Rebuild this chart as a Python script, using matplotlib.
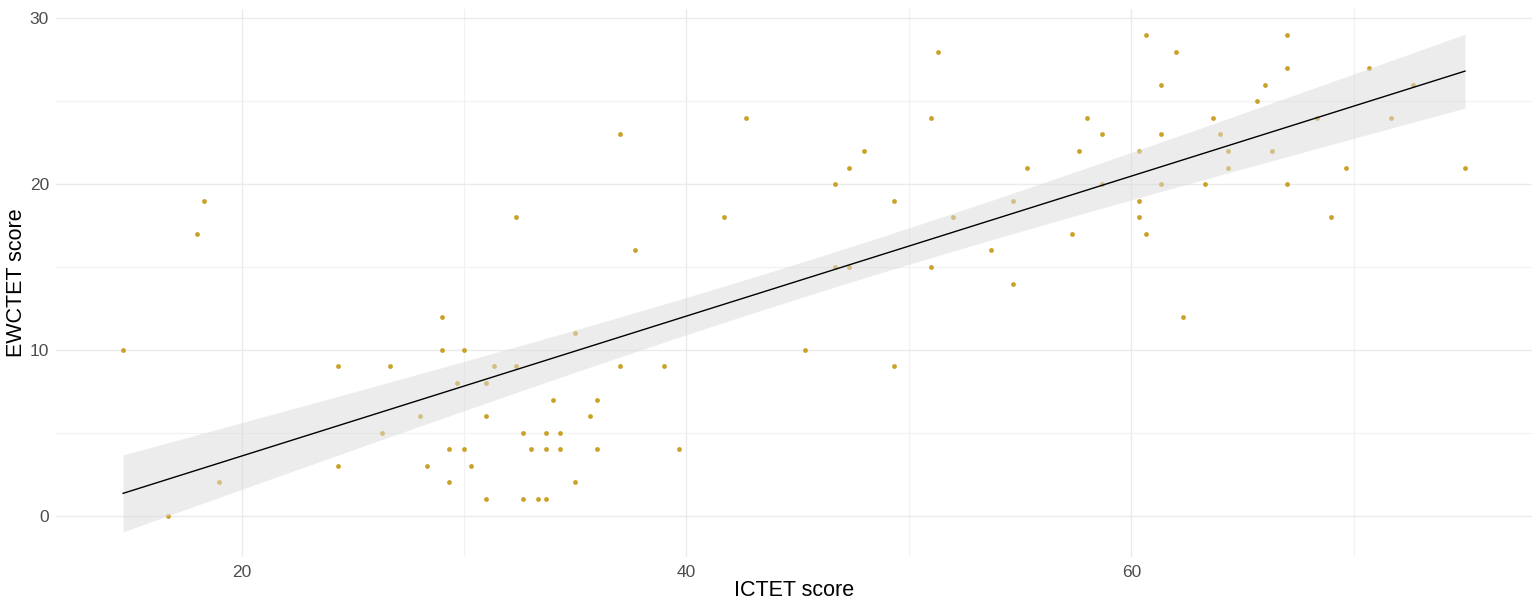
import numpy as np
import matplotlib
matplotlib.use("Agg")
import matplotlib.pyplot as plt

plt.rcParams['font.family'] = ['Liberation Sans', 'DejaVu Sans']

# ICTET / EWCTET scores per participant
ictet = [14.67, 16.67, 18.0, 18.33, 19.0, 24.33, 24.33, 26.33, 26.67, 28.0,
         28.33, 29.0, 29.0, 29.33, 29.33, 29.67, 30.0, 30.0, 30.33, 31.0,
         31.0, 31.0, 31.33, 32.33, 32.33, 32.67, 32.67, 33.0, 33.33, 33.67,
         33.67, 33.67, 34.0, 34.33, 34.33, 35.0, 35.0, 35.67, 36.0, 36.0,
         37.0, 37.0, 37.67, 39.0, 39.67, 41.67, 42.67, 45.33, 46.67, 46.67,
         47.33, 47.33, 48.0, 49.33, 49.33, 51.0, 51.0, 51.33, 52.0, 53.67,
         54.67, 54.67, 55.33, 57.33, 57.67, 58.0, 58.67, 58.67, 60.33, 60.33,
         60.33, 60.67, 60.67, 61.33, 61.33, 61.33, 62.0, 62.33, 63.33, 63.67,
         64.0, 64.33, 64.33, 65.67, 66.0, 66.33, 67.0, 67.0, 67.0, 68.33,
         69.0, 69.67, 70.67, 71.67, 72.67, 75.0]
ewctet = [10, 0, 17, 19, 2, 9, 3, 5, 9, 6,
          3, 12, 10, 4, 2, 8, 10, 4, 3, 8,
          6, 1, 9, 9, 18, 5, 1, 4, 1, 5,
          4, 1, 7, 5, 4, 11, 2, 6, 7, 4,
          9, 23, 16, 9, 4, 18, 24, 10, 20, 15,
          21, 15, 22, 19, 9, 24, 15, 28, 18, 16,
          19, 14, 21, 17, 22, 24, 23, 20, 22, 19,
          18, 29, 17, 26, 23, 20, 28, 12, 20, 24,
          23, 22, 21, 25, 26, 22, 29, 27, 20, 24,
          18, 21, 27, 24, 26, 21]

x = np.array(ictet)
y = np.array(ewctet)

# linear fit with 95% confidence band (like geom_smooth(method="lm"))
n = len(x)
slope, intercept = np.polyfit(x, y, 1)
resid = y - (slope * x + intercept)
s = np.sqrt(np.sum(resid ** 2) / (n - 2))
xs = np.linspace(x.min(), x.max(), 200)
fit = slope * xs + intercept
se = s * np.sqrt(1 / n + (xs - x.mean()) ** 2 / np.sum((x - x.mean()) ** 2))
tcrit = 1.9855  # t(0.975, df=94)
lo = fit - tcrit * se
hi = fit + tcrit * se

fig = plt.figure(figsize=(15.37, 6), dpi=100)
ax = fig.add_axes([56 / 1537, 1 - 556.7 / 600, (1532 - 56) / 1537, (556.7 - 9.3) / 600])

ax.scatter(x, y, s=12, color="#C9A227", linewidths=0, zorder=2)
ax.fill_between(xs, lo, hi, color="#DADADA", alpha=0.5, linewidth=0, zorder=3)
ax.plot(xs, fit, color="black", lw=1.0, zorder=4)

# 5% expansion like ggplot
xmin, xmax = x.min(), x.max()
dx = (xmax - xmin) * 0.05
ax.set_xlim(xmin - dx, xmax + dx)
ymin, ymax = min(y.min(), lo.min()), max(y.max(), hi.max())
dy = (ymax - ymin) * 0.05
ax.set_ylim(ymin - dy, ymax + dy)

ax.set_xticks([20, 40, 60])
ax.set_xticks([30, 50, 70], minor=True)
ax.set_yticks([0, 10, 20, 30])
ax.set_yticks([5, 15, 25], minor=True)
ax.grid(which="major", color="#EBEBEB", lw=1.0, zorder=0)
ax.grid(which="minor", color="#F2F2F2", lw=0.9, zorder=0)
ax.set_axisbelow(True)
for sp in ax.spines.values():
    sp.set_visible(False)
ax.tick_params(which="both", length=0, labelsize=12.5, labelcolor="#4D4D4D")
ax.tick_params(axis="x", pad=6)
ax.tick_params(axis="y", pad=5)

ax.set_xlabel("ICTET score", fontsize=15.5, color="black", labelpad=0)
ax.set_ylabel("EWCTET score", fontsize=15.5, color="black", labelpad=2)

fig.savefig("out.png", dpi=100, facecolor="white")
